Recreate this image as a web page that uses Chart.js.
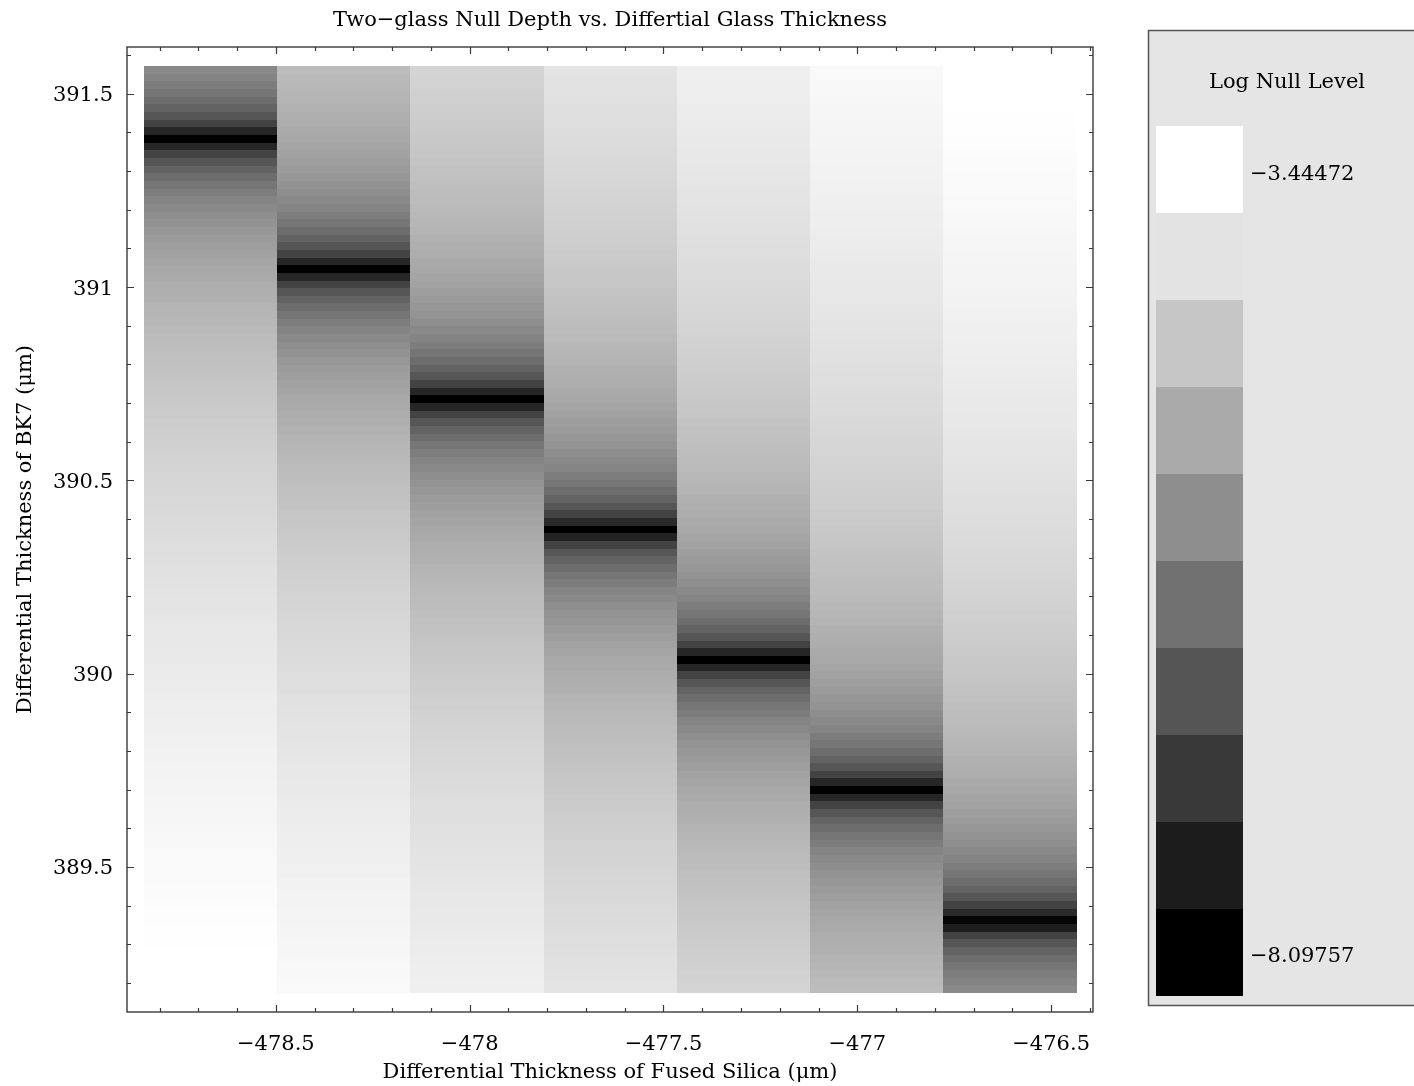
<!DOCTYPE html>
<html>
<head>
<meta charset="utf-8">
<script src="https://cdn.jsdelivr.net/npm/chart.js@4.4.1/dist/chart.umd.min.js"></script>
<style>
  html, body { margin: 0; padding: 0; background: #ffffff; }
  canvas { display: block; }
</style>
</head>
<body>
<canvas id="nullChart" width="1414" height="1086"></canvas>
<script>
// Differential thickness of fused silica (µm): centre of each sampled column
const silicaThickness = [-478.668, -478.326, -477.982, -477.637, -477.294, -476.951, -476.606];

// Differential thickness of BK7 (µm): centres of the first (top) and last (bottom) sampled rows
const bk7Range = [391.562, 389.184];

// log10 null level, one list per fused-silica column, rows from the top of the BK7 range down.
// null marks samples that fall outside the plotted level range.
const logNull1 = [
  -5.59,-5.69,-5.81,-5.94,-6.10,-6.29,-6.53,-6.87,-7.40,
  -8.10,
  -7.40,-6.87,-6.53,-6.29,-6.10,-5.94,-5.81,-5.69,-5.59,-5.50,
  -5.42,-5.34,-5.27,-5.21,-5.15,-5.09,-5.04,-4.99,-4.94,-4.90,
  -4.86,-4.82,-4.78,-4.74,-4.70,-4.67,-4.64,-4.61,-4.58,-4.55,
  -4.52,-4.49,-4.46,-4.44,-4.41,-4.39,-4.36,-4.34,-4.32,-4.30,
  -4.27,-4.25,-4.23,-4.21,-4.19,-4.17,-4.16,-4.14,-4.12,-4.10,
  -4.09,-4.07,-4.05,-4.04,-4.02,-4.00,-3.99,-3.97,-3.96,-3.94,
  -3.93,-3.92,-3.90,-3.89,-3.87,-3.86,-3.85,-3.84,-3.82,-3.81,
  -3.80,-3.79,-3.77,-3.76,-3.75,-3.74,-3.73,-3.72,-3.71,-3.69,
  -3.68,-3.67,-3.66,-3.65,-3.64,-3.63,-3.62,-3.61,-3.60,-3.59,
  -3.58,-3.57,-3.56,-3.55,-3.54,-3.54,-3.53,-3.52,-3.51,-3.50,
  -3.49,-3.48,-3.47,-3.47,-3.46,-3.45,
  null,null,null,null,null
];
const logNull2 = [
  -4.67,-4.70,-4.74,-4.78,-4.82,-4.86,
  -4.90,-4.94,-4.99,-5.04,-5.09,-5.15,-5.21,-5.27,-5.34,-5.42,
  -5.50,-5.59,-5.69,-5.81,-5.94,-6.10,-6.29,-6.53,-6.87,-7.40,
  -8.10,
  -7.40,-6.87,-6.53,-6.29,-6.10,-5.94,-5.81,-5.69,-5.59,-5.50,
  -5.42,-5.34,-5.27,-5.21,-5.15,-5.09,-5.04,-4.99,-4.94,-4.90,
  -4.86,-4.82,-4.78,-4.74,-4.70,-4.67,-4.64,-4.61,-4.58,-4.55,
  -4.52,-4.49,-4.46,-4.44,-4.41,-4.39,-4.36,-4.34,-4.32,-4.30,
  -4.27,-4.25,-4.23,-4.21,-4.19,-4.17,-4.16,-4.14,-4.12,-4.10,
  -4.09,-4.07,-4.05,-4.04,-4.02,-4.00,-3.99,-3.97,-3.96,-3.94,
  -3.93,-3.92,-3.90,-3.89,-3.87,-3.86,-3.85,-3.84,-3.82,-3.81,
  -3.80,-3.79,-3.77,-3.76,-3.75,-3.74,-3.73,-3.72,-3.71,-3.69,
  -3.68,-3.67,-3.66,-3.65,-3.64,-3.63,-3.62,-3.61,-3.60,-3.59,
  -3.58,-3.57,-3.56,-3.55
];
const logNull3 = [
  -4.23,-4.25,-4.27,
  -4.30,-4.32,-4.34,-4.36,-4.39,-4.41,-4.44,-4.46,-4.49,-4.52,
  -4.55,-4.58,-4.61,-4.64,-4.67,-4.70,-4.74,-4.78,-4.82,-4.86,
  -4.90,-4.94,-4.99,-5.04,-5.09,-5.15,-5.21,-5.27,-5.34,-5.42,
  -5.50,-5.59,-5.69,-5.81,-5.94,-6.10,-6.29,-6.53,-6.87,-7.40,
  -8.10,
  -7.40,-6.87,-6.53,-6.29,-6.10,-5.94,-5.81,-5.69,-5.59,-5.50,
  -5.42,-5.34,-5.27,-5.21,-5.15,-5.09,-5.04,-4.99,-4.94,-4.90,
  -4.86,-4.82,-4.78,-4.74,-4.70,-4.67,-4.64,-4.61,-4.58,-4.55,
  -4.52,-4.49,-4.46,-4.44,-4.41,-4.39,-4.36,-4.34,-4.32,-4.30,
  -4.27,-4.25,-4.23,-4.21,-4.19,-4.17,-4.16,-4.14,-4.12,-4.10,
  -4.09,-4.07,-4.05,-4.04,-4.02,-4.00,-3.99,-3.97,-3.96,-3.94,
  -3.93,-3.92,-3.90,-3.89,-3.87,-3.86,-3.85,-3.84,-3.82,-3.81,
  -3.80,-3.79,-3.77,-3.76,-3.75,-3.74,-3.73
];
const logNull4 = [
  -3.94,-3.96,-3.97,-3.99,-4.00,-4.02,-4.04,-4.05,-4.07,-4.09,
  -4.10,-4.12,-4.14,-4.16,-4.17,-4.19,-4.21,-4.23,-4.25,-4.27,
  -4.30,-4.32,-4.34,-4.36,-4.39,-4.41,-4.44,-4.46,-4.49,-4.52,
  -4.55,-4.58,-4.61,-4.64,-4.67,-4.70,-4.74,-4.78,-4.82,-4.86,
  -4.90,-4.94,-4.99,-5.04,-5.09,-5.15,-5.21,-5.27,-5.34,-5.42,
  -5.50,-5.59,-5.69,-5.81,-5.94,-6.10,-6.29,-6.53,-6.87,-7.33,
  -8.10,
  -7.46,-6.87,-6.53,-6.29,-6.10,-5.94,-5.81,-5.69,-5.59,-5.50,
  -5.42,-5.34,-5.27,-5.21,-5.15,-5.09,-5.04,-4.99,-4.94,-4.90,
  -4.86,-4.82,-4.78,-4.74,-4.70,-4.67,-4.64,-4.61,-4.58,-4.55,
  -4.52,-4.49,-4.46,-4.44,-4.41,-4.39,-4.36,-4.34,-4.32,-4.30,
  -4.27,-4.25,-4.23,-4.21,-4.19,-4.17,-4.16,-4.14,-4.12,-4.10,
  -4.09,-4.07,-4.05,-4.04,-4.02,-4.00,-3.99,-3.97,-3.96,-3.94
];
const logNull5 = [
  -3.73,-3.74,-3.75,-3.76,-3.77,-3.79,-3.80,
  -3.81,-3.82,-3.84,-3.85,-3.86,-3.87,-3.89,-3.90,-3.92,-3.93,
  -3.94,-3.96,-3.97,-3.99,-4.00,-4.02,-4.04,-4.05,-4.07,-4.09,
  -4.10,-4.12,-4.14,-4.16,-4.17,-4.19,-4.21,-4.23,-4.25,-4.27,
  -4.30,-4.32,-4.34,-4.36,-4.39,-4.41,-4.44,-4.46,-4.49,-4.52,
  -4.55,-4.58,-4.61,-4.64,-4.67,-4.70,-4.74,-4.78,-4.82,-4.86,
  -4.90,-4.94,-4.99,-5.04,-5.09,-5.15,-5.21,-5.27,-5.34,-5.42,
  -5.50,-5.59,-5.69,-5.81,-5.94,-6.10,-6.29,-6.53,-6.87,-7.40,
  -8.10,
  -7.40,-6.87,-6.53,-6.29,-6.10,-5.94,-5.81,-5.69,-5.59,-5.50,
  -5.42,-5.34,-5.27,-5.21,-5.15,-5.09,-5.04,-4.99,-4.94,-4.90,
  -4.86,-4.82,-4.78,-4.74,-4.70,-4.67,-4.64,-4.61,-4.58,-4.55,
  -4.52,-4.49,-4.46,-4.44,-4.41,-4.39,-4.36,-4.34,-4.32,-4.30,
  -4.27,-4.25,-4.23
];
const logNull6 = [
  -3.55,-3.56,-3.57,-3.58,
  -3.59,-3.60,-3.61,-3.62,-3.63,-3.64,-3.65,-3.66,-3.67,-3.68,
  -3.69,-3.71,-3.72,-3.73,-3.74,-3.75,-3.76,-3.77,-3.79,-3.80,
  -3.81,-3.82,-3.84,-3.85,-3.86,-3.87,-3.89,-3.90,-3.92,-3.93,
  -3.94,-3.96,-3.97,-3.99,-4.00,-4.02,-4.04,-4.05,-4.07,-4.09,
  -4.10,-4.12,-4.14,-4.16,-4.17,-4.19,-4.21,-4.23,-4.25,-4.27,
  -4.30,-4.32,-4.34,-4.36,-4.39,-4.41,-4.44,-4.46,-4.49,-4.52,
  -4.55,-4.58,-4.61,-4.64,-4.67,-4.70,-4.74,-4.78,-4.82,-4.86,
  -4.90,-4.94,-4.99,-5.04,-5.09,-5.15,-5.21,-5.27,-5.34,-5.42,
  -5.50,-5.59,-5.69,-5.81,-5.94,-6.10,-6.29,-6.53,-6.87,-7.40,
  -8.08,
  -7.40,-6.87,-6.53,-6.29,-6.10,-5.94,-5.81,-5.69,-5.59,-5.50,
  -5.42,-5.34,-5.27,-5.21,-5.15,-5.09,-5.04,-4.99,-4.94,-4.90,
  -4.86,-4.82,-4.78,-4.74,-4.70,-4.67
];
const logNull7 = [
  null,null,null,null,null,
  -3.45,-3.46,-3.47,-3.47,-3.48,-3.49,
  -3.50,-3.51,-3.52,-3.53,-3.54,-3.54,-3.55,-3.56,-3.57,-3.58,
  -3.59,-3.60,-3.61,-3.62,-3.63,-3.64,-3.65,-3.66,-3.67,-3.68,
  -3.69,-3.71,-3.72,-3.73,-3.74,-3.75,-3.76,-3.77,-3.79,-3.80,
  -3.81,-3.82,-3.84,-3.85,-3.86,-3.87,-3.89,-3.90,-3.92,-3.93,
  -3.94,-3.96,-3.97,-3.99,-4.00,-4.02,-4.04,-4.05,-4.07,-4.09,
  -4.10,-4.12,-4.14,-4.16,-4.17,-4.19,-4.21,-4.23,-4.25,-4.27,
  -4.30,-4.32,-4.34,-4.36,-4.39,-4.41,-4.44,-4.46,-4.49,-4.52,
  -4.55,-4.58,-4.61,-4.64,-4.67,-4.70,-4.74,-4.78,-4.82,-4.86,
  -4.90,-4.94,-4.99,-5.04,-5.09,-5.15,-5.21,-5.27,-5.34,-5.42,
  -5.50,-5.59,-5.69,-5.81,-5.94,-6.10,-6.29,-6.53,-6.87,-7.34,
  -7.99,
  -7.55,-6.87,-6.53,-6.29,-6.10,-5.94,-5.81,-5.69,-5.59
];
const logNullColumns = [logNull1, logNull2, logNull3, logNull4, logNull5, logNull6, logNull7];

// Axis tick labels and the level range shown on the colour key
const silicaTicks = [-478.5, -478, -477.5, -477, -476.5];
const bk7Ticks = [389.5, 390, 390.5, 391, 391.5];
const levelRange = [-8.09757, -3.44472];
const keyLevels = 10;

const FONT = 'DejaVu Serif';
const minus = v => (v < 0 ? '\u2212' + String(Math.abs(v)) : String(v));

function grey(v) {
  let g = (v - levelRange[0]) / (levelRange[1] - levelRange[0]);
  g = Math.max(0, Math.min(1, g));
  const c = Math.round(g * 255);
  return `rgb(${c},${c},${c})`;
}

// Column edges sit halfway between neighbouring centres so adjacent cells share a border
const nCols = silicaThickness.length;
const colEdges = [];
for (let i = 0; i <= nCols; i++) {
  if (i === 0) colEdges.push(silicaThickness[0] - (silicaThickness[1] - silicaThickness[0]) / 2);
  else if (i === nCols) colEdges.push(silicaThickness[nCols - 1] + (silicaThickness[nCols - 1] - silicaThickness[nCols - 2]) / 2);
  else colEdges.push((silicaThickness[i - 1] + silicaThickness[i]) / 2);
}

// One point per sampled cell; the plugin below paints each as a filled rectangle
const cells = [];
logNullColumns.forEach((col, ci) => {
  const rowStep = (bk7Range[0] - bk7Range[1]) / (col.length - 1);
  col.forEach((v, ri) => {
    if (v === null) return;
    const yc = bk7Range[0] - ri * rowStep;
    cells.push({
      x: silicaThickness[ci], y: yc, v,
      x0: colEdges[ci], x1: colEdges[ci + 1],
      y0: bk7Range[0] + rowStep / 2 - ri * rowStep,
      y1: bk7Range[0] + rowStep / 2 - (ri + 1) * rowStep
    });
  });
});

const densityCells = {
  id: 'densityCells',
  beforeDatasetsDraw(chart) {
    const { ctx, chartArea: a, scales: { x, y } } = chart;
    const pts = chart.data.datasets[0].data;
    ctx.save();
    ctx.beginPath();
    ctx.rect(a.left, a.top, a.width, a.height);
    ctx.clip();
    chart.getDatasetMeta(0).data.forEach((el, i) => {
      const d = pts[i];
      const xl = Math.round(x.getPixelForValue(d.x0));
      const xr = Math.round(x.getPixelForValue(d.x1));
      const yt = Math.round(y.getPixelForValue(d.y0));
      const yb = Math.round(y.getPixelForValue(d.y1));
      ctx.fillStyle = grey(d.v);
      ctx.fillRect(xl, yt, xr - xl, yb - yt);
    });
    ctx.restore();
  }
};

// Frame with inward major/minor ticks on all four sides
const frameTicks = {
  id: 'frameTicks',
  afterDatasetsDraw(chart) {
    const { ctx, chartArea: a, scales: { x, y } } = chart;
    ctx.save();
    ctx.strokeStyle = '#3a3a3a';
    ctx.lineWidth = 1.4;
    ctx.strokeRect(a.left, a.top, a.width, a.height);
    ctx.lineWidth = 1.2;
    ctx.beginPath();
    for (let k = Math.ceil(x.min * 10); k <= Math.floor(x.max * 10); k++) {
      const px = Math.round(x.getPixelForValue(k / 10)) + 0.5;
      const len = k % 5 === 0 ? 7 : 4;
      ctx.moveTo(px, a.bottom); ctx.lineTo(px, a.bottom - len);
      ctx.moveTo(px, a.top); ctx.lineTo(px, a.top + len);
    }
    for (let k = Math.ceil(y.min * 10); k <= Math.floor(y.max * 10); k++) {
      const py = Math.round(y.getPixelForValue(k / 10)) + 0.5;
      const len = k % 5 === 0 ? 7 : 4;
      ctx.moveTo(a.left, py); ctx.lineTo(a.left + len, py);
      ctx.moveTo(a.right, py); ctx.lineTo(a.right - len, py);
    }
    ctx.stroke();
    ctx.restore();
  }
};

// Colour key box at the right
const levelKey = {
  id: 'levelKey',
  afterDraw(chart) {
    const { ctx, chartArea: a } = chart;
    const boxL = a.right + 55, boxT = 30, boxB = 1005;
    ctx.save();
    ctx.fillStyle = '#e5e5e5';
    ctx.fillRect(boxL, boxT, chart.width - boxL + 5, boxB - boxT);
    ctx.strokeStyle = '#555555';
    ctx.lineWidth = 1.5;
    ctx.strokeRect(boxL + 0.5, boxT + 0.5, chart.width - boxL + 5, boxB - boxT);
    ctx.fillStyle = '#000';
    ctx.font = `21px "${FONT}"`;
    ctx.textAlign = 'center';
    ctx.textBaseline = 'middle';
    ctx.fillText('Log Null Level', boxL + 139, 83);
    const sw = 87, sx = boxL + 8, sy = 126;
    for (let k = 0; k < keyLevels; k++) {
      const v = levelRange[1] - (levelRange[1] - levelRange[0]) * k / (keyLevels - 1);
      ctx.fillStyle = grey(v);
      ctx.fillRect(sx, sy + k * sw, sw, sw);
    }
    ctx.fillStyle = '#000';
    ctx.textAlign = 'left';
    ctx.fillText(minus(levelRange[1]), sx + sw + 7, sy + sw / 2 + 5);
    ctx.fillText(minus(levelRange[0]), sx + sw + 7, sy + (keyLevels - 0.5) * sw + 4);
    ctx.restore();
  }
};

const tickFont = { family: FONT, size: 21 };

new Chart(document.getElementById('nullChart'), {
  type: 'scatter',
  data: {
    datasets: [{
      data: cells,
      pointRadius: 0,
      pointHoverRadius: 0,
      showLine: false
    }]
  },
  options: {
    responsive: false,
    animation: false,
    devicePixelRatio: 1,
    events: [],
    layout: { padding: { left: 0, right: 321, top: 0, bottom: 0 } },
    plugins: {
      legend: { display: false },
      tooltip: { enabled: false },
      title: {
        display: true,
        fullSize: false,
        text: 'Two\u2212glass Null Depth vs. Differtial Glass Thickness',
        color: '#000',
        font: { family: FONT, size: 21, weight: 'normal' },
        padding: { top: 8, bottom: 13.8 }
      }
    },
    scales: {
      x: {
        type: 'linear',
        position: 'bottom',
        min: -478.884,
        max: -476.392,
        afterBuildTicks: s => { s.ticks = silicaTicks.map(v => ({ value: v })); },
        afterFit: s => { s.height = 74; },
        grid: { display: false, drawTicks: false },
        border: { display: false },
        ticks: { color: '#000', font: tickFont, padding: 20, maxRotation: 0, autoSkip: false, callback: v => minus(v) },
        title: {
          display: true,
          text: 'Differential Thickness of Fused Silica (\u03bcm)',
          color: '#000',
          font: tickFont,
          padding: { top: 0, bottom: 0.5 }
        }
      },
      y: {
        type: 'linear',
        position: 'left',
        min: 389.125,
        max: 391.621,
        afterBuildTicks: s => { s.ticks = bk7Ticks.map(v => ({ value: v })); },
        afterFit: s => { s.width = 127; },
        grid: { display: false, drawTicks: false },
        border: { display: false },
        ticks: { color: '#000', font: tickFont, padding: 14, labelOffset: 2, autoSkip: false, callback: v => minus(v) },
        title: {
          display: true,
          text: 'Differential Thickness of BK7 (\u03bcm)',
          color: '#000',
          font: tickFont,
          padding: { top: 13, bottom: 0 }
        }
      }
    }
  },
  plugins: [densityCells, frameTicks, levelKey]
});
</script>
</body>
</html>
